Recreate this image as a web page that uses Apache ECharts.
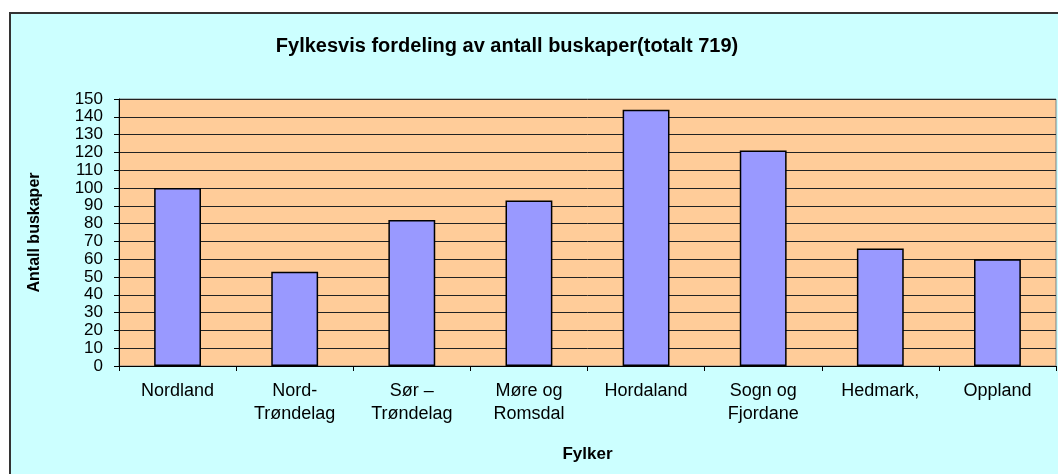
<!DOCTYPE html>
<html>
<head>
<meta charset="utf-8">
<script src="https://cdn.jsdelivr.net/npm/echarts@6/dist/echarts.min.js"></script>
<style>
  html, body { margin: 0; padding: 0; background: #ffffff; overflow: hidden; }
  #frame { position: absolute; left: 9px; top: 12px; width: 1060px; height: 470px;
           background: #CCFFFF; border: 2px solid #333333; box-sizing: border-box; }
  #chart { position: absolute; left: 0; top: 0; width: 1058px; height: 474px; }
</style>
</head>
<body>
<div id="frame"></div>
<div id="chart"></div>
<script>
  // fylker og antall buskaper
  var fylker = ['Nordland', 'Nord-\nTrøndelag', 'Sør –\nTrøndelag', 'Møre og\nRomsdal', 'Hordaland', 'Sogn og\nFjordane', 'Hedmark,', 'Oppland']
  var antall = [100, 53, 82, 93, 144, 121, 66, 60]
  var yMin = 0
  var yMax = 150
  var yStep = 10

  var myChart = echarts.init(document.getElementById('chart'))
  var option = {
    backgroundColor: 'transparent',
    animation: false,
    textStyle: { fontFamily: 'Arial, "Liberation Sans", sans-serif' },
    title: {
      text: 'Fylkesvis fordeling av antall buskaper(totalt 719)',
      left: 502,
      top: 31,
      textAlign: 'center',
      textStyle: { fontSize: 20, fontWeight: 'bold', color: '#000000' }
    },
    graphic: [{
      type: 'text',
      left: 4,
      top: -23,
      style: { text: 'Fordeling av buskaper', fontSize: 22, fill: '#000000', fontFamily: 'Arial, "Liberation Sans", sans-serif' }
    }],
    grid: {
      left: 119,
      right: 2,
      top: 99,
      bottom: 108,
      show: true,
      backgroundColor: '#FFCC99',
      borderColor: '#808080',
      borderWidth: 1
    },
    xAxis: {
      type: 'category',
      data: fylker,
      name: 'Fylker',
      nameLocation: 'middle',
      nameGap: 80,
      nameTextStyle: { fontSize: 17, fontWeight: 'bold', color: '#000000' },
      axisLine: { lineStyle: { color: '#000000', width: 1 } },
      axisTick: { show: true, length: 5, lineStyle: { color: '#000000' } },
      axisLabel: { fontSize: 18, color: '#000000', margin: 14, lineHeight: 23, interval: 0 }
    },
    yAxis: {
      type: 'value',
      min: yMin,
      max: yMax,
      interval: yStep,
      name: 'Antall buskaper',
      nameLocation: 'middle',
      nameGap: 76,
      nameTextStyle: { fontSize: 16, fontWeight: 'bold', color: '#000000' },
      axisLine: { show: true, lineStyle: { color: '#000000', width: 1 } },
      axisTick: { show: true, length: 5, lineStyle: { color: '#000000' } },
      axisLabel: { fontSize: 17, color: '#000000', margin: 16 },
      splitLine: { show: true, lineStyle: { color: '#222222', width: 1 } }
    },
    series: [{
      type: 'bar',
      data: antall,
      barWidth: '40%',
      itemStyle: { color: '#9999FF', borderColor: '#000000', borderWidth: 1.5 }
    }]
  }
  myChart.setOption(option)
</script>
</body>
</html>
